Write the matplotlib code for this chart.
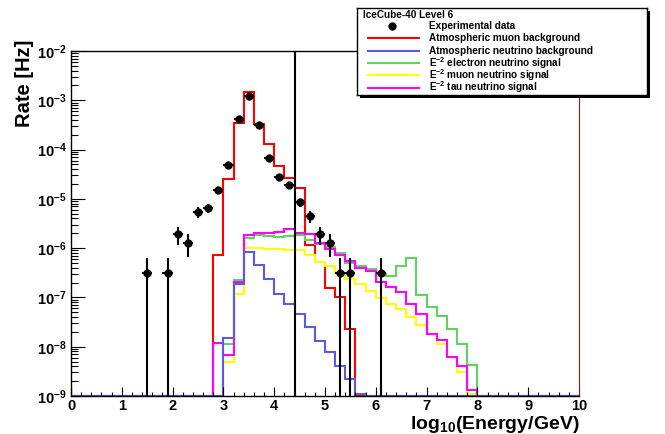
import numpy as np
import matplotlib
matplotlib.use("Agg")
from matplotlib import pyplot as plt
from matplotlib.patches import Rectangle
from matplotlib.ticker import FuncFormatter, LogLocator, MultipleLocator, NullFormatter

plt.rcParams["font.family"] = ["Liberation Sans", "DejaVu Sans"]
plt.rcParams["font.weight"] = "bold"
plt.rcParams["mathtext.fontset"] = "custom"
plt.rcParams["mathtext.rm"] = "Liberation Sans:bold"
plt.rcParams["mathtext.it"] = "Liberation Sans:bold"
plt.rcParams["mathtext.bf"] = "Liberation Sans:bold"
plt.rcParams["mathtext.default"] = "rm"

# %% data
bin_width = 0.2
y_min = 1e-9

data_x = [1.5, 1.9, 2.1, 2.3, 2.5, 2.7, 2.9, 3.1, 3.3, 3.5, 3.7,
          3.9, 4.1, 4.3, 4.5, 4.7, 4.9, 5.1, 5.3, 5.5, 6.1]
data_rate = [3.15e-7, 3.15e-7, 1.92e-6, 1.28e-6, 5.4e-6, 6.5e-6, 1.48e-5, 4.84e-5, 4.1e-4, 1.22e-3, 3.14e-4,
             6.9e-5, 2.8e-5, 1.93e-5, 8.45e-6, 4.46e-6, 1.92e-6, 1.28e-6, 3.15e-7, 3.15e-7, 3.15e-7]
data_err = [3.15e-7, 3.15e-7, 7.7e-7, 6.3e-7, 1.3e-6, 1.44e-6, 2.16e-6, 3.9e-6, 1.14e-5, 1.96e-5, 1.0e-5,
            4.7e-6, 3.0e-6, 2.5e-6, 1.64e-6, 1.18e-6, 7.7e-7, 6.3e-7, 3.15e-7, 3.15e-7, 3.15e-7]

# histograms: lower edge of first filled bin, then bin contents in Hz
muon_bg_start = 2.8
muon_bg = [7.2e-7, 2.5e-5, 3.5e-4, 1.49e-3, 3.34e-4, 1.27e-4, 4.55e-5, 2.64e-5, 1.67e-5,
           1.15e-6, 5.3e-7, 1.52e-7, 1.04e-7, 2.33e-8]

nu_bg_start = 3.0
nu_bg = [1.5e-8, 1.9e-7, 8.4e-7, 4.6e-7, 2.4e-7, 1.2e-7, 7.3e-8, 4.7e-8, 2.5e-8,
         1.3e-8, 7.8e-9, 4.0e-9, 2.2e-9, 1.1e-9]

e_sig_start = 3.0
e_sig = [1.16e-8, 2.3e-7, 1.57e-6, 1.83e-6, 1.78e-6, 1.70e-6, 1.78e-6, 1.83e-6, 1.45e-6,
         1.2e-6, 1.06e-6, 7.8e-7, 4.9e-7, 4.4e-7, 3.7e-7, 3.05e-7, 2.7e-7, 4.4e-7, 6.2e-7,
         1.11e-7, 6.4e-8, 4.15e-8, 2.33e-8, 1.12e-8, 4.3e-9]

mu_sig_start = 3.0
mu_sig = [4.9e-9, 1.2e-7, 1.02e-6, 1.02e-6, 9.8e-7, 9.5e-7, 9.3e-7, 9.1e-7, 7.2e-7,
          5.2e-7, 4.3e-7, 3.2e-7, 2.4e-7, 1.9e-7, 1.35e-7, 9.9e-8, 7.5e-8, 5.75e-8, 4.0e-8,
          2.8e-8, 1.8e-8, 1.12e-8, 6.2e-9, 3.1e-9, 1.08e-9]

tau_sig_start = 2.8
tau_sig = [1.21e-8, 6.8e-9, 2.07e-7, 1.89e-6, 2.04e-6, 2.04e-6, 2.14e-6, 2.45e-6, 2.0e-6,
           1.9e-6, 1.29e-6, 9.5e-7, 7.2e-7, 5.4e-7, 4.0e-7, 3.4e-7, 2.07e-7, 1.64e-7, 1.26e-7,
           7.5e-8, 4.7e-8, 1.79e-8, 1.35e-8, 6.2e-9, 4.0e-9, 1.3e-9]

cut_energy = 4.4

legend_title = "IceCube-40 Level 6"
labels = ["Experimental data",
          "Atmospheric muon background",
          "Atmospheric neutrino background",
          r"E$^{-2}$ electron neutrino signal",
          r"E$^{-2}$ muon neutrino signal",
          r"E$^{-2}$ tau neutrino signal"]

# %% helpers
edges = np.round(np.arange(0, 10 + bin_width / 2, bin_width), 1)


def full_hist(start, values):
    h = np.full(len(edges) - 1, y_min)
    i = int(round(start / bin_width))
    h[i:i + len(values)] = values
    return h


fig_w, fig_h = 665, 434


def px_box(x0, y0, x1, y1):
    return [x0 / fig_w, 1 - y1 / fig_h, (x1 - x0) / fig_w, (y1 - y0) / fig_h]


# %% plot
fig = plt.figure(figsize=(fig_w / 100, fig_h / 100), dpi=100)
ax = fig.add_axes(px_box(71, 51, 579, 396))
ax.set_yscale("log")

hists = [
    (muon_bg_start, muon_bg, "#ff0000"),
    (e_sig_start, e_sig, "#5fd35f"),
    (mu_sig_start, mu_sig, "#ffff00"),
    (tau_sig_start, tau_sig, "#ff00ff"),
    (nu_bg_start, nu_bg, "#5b5bdf"),
]
for start, values, color in hists:
    ax.stairs(full_hist(start, values), edges, baseline=None, color=color, lw=1.5)

ax.axvline(cut_energy, color="black", lw=1.5, zorder=4)

ax.errorbar(data_x, data_rate, yerr=data_err, xerr=bin_width / 2, fmt="o",
            color="black", ms=5, elinewidth=1.5, capsize=0, zorder=5)

ax.set_xlim(0, 10)
ax.set_ylim(y_min, 1e-2)

ax.xaxis.set_major_locator(MultipleLocator(1))
ax.xaxis.set_minor_locator(MultipleLocator(0.2))
ax.yaxis.set_major_locator(LogLocator(base=10, numticks=20))
ax.yaxis.set_minor_locator(LogLocator(base=10, subs=np.arange(2, 10), numticks=20))
ax.yaxis.set_minor_formatter(NullFormatter())
ax.yaxis.set_major_formatter(FuncFormatter(lambda v, p: r"$10^{%d}$" % round(np.log10(v))))
ax.xaxis.set_major_formatter(FuncFormatter(lambda v, p: "%d" % v))

ax.tick_params(axis="both", which="both", direction="in", width=0.8, top=False, right=False)
ax.tick_params(axis="x", which="major", length=6.5, labelsize=10.5, pad=2)
ax.tick_params(axis="x", which="minor", length=3)
ax.tick_params(axis="y", which="major", length=10, labelsize=10.5, pad=3)
ax.tick_params(axis="y", which="minor", length=5)
for side in ["left", "bottom", "top"]:
    ax.spines[side].set_linewidth(1)
ax.spines["right"].set_color("#8b1a1a")

fig.text(24 / fig_w, 1 - 83 / fig_h, "Rate [Hz]", rotation=90, ha="center", va="center", fontsize=14.5)
fig.text(580 / fig_w, 1 - 429 / fig_h, r"log$_{10}$(Energy/GeV)", ha="right", va="baseline", fontsize=14)

# %% legend box (ROOT style, with shadow)
shadow = Rectangle((360 / fig_w, 1 - 98 / fig_h), 290 / fig_w, 87 / fig_h,
                   transform=fig.transFigure, facecolor="black", edgecolor="none", zorder=0.5)
fig.add_artist(shadow)
lax = fig.add_axes(px_box(357, 8, 647, 95))
lax.set_zorder(1)
lax.set_xlim(0, 290)
lax.set_ylim(87, 0)
lax.set_xticks([])
lax.set_yticks([])
for s in lax.spines.values():
    s.set_linewidth(1)

lax.text(6, 6.5, legend_title, ha="left", va="center", fontsize=7.2)
colors = ["black", "#ff0000", "#5b5bdf", "#5fd35f", "#ffff00", "#ff00ff"]
for i, (label, color) in enumerate(zip(labels, colors)):
    y = 18 + 12.3 * i
    if i == 0:
        lax.plot(35, y, "o", color="black", ms=5)
    else:
        lax.plot([11, 62], [y, y], color=color, lw=1.5)
    lax.text(72, y, label, ha="left", va="center", fontsize=7.2)

fig.savefig("out.png", dpi=100)
